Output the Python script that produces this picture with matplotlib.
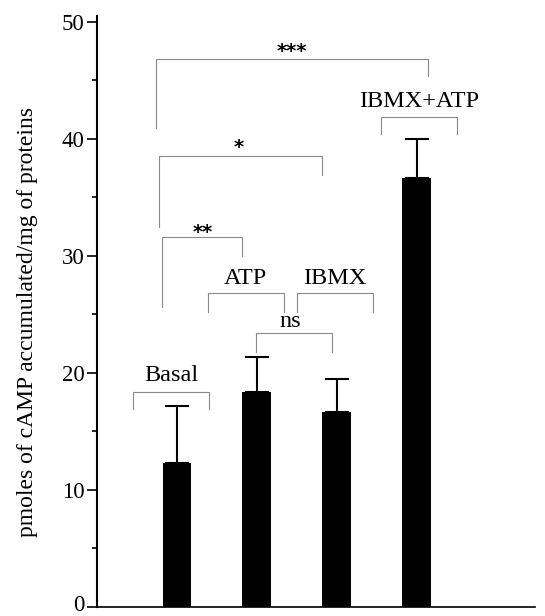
import matplotlib
matplotlib.use("Agg")
import matplotlib.pyplot as plt
import matplotlib.transforms as mtransforms
import numpy as np

# ---- data ----
categories = ["Basal", "ATP", "IBMX", "IBMX+ATP"]
values = [12.3, 18.4, 16.7, 36.7]
errors = [4.9, 3.0, 2.8, 3.3]
yticks = [0, 10, 20, 30, 40, 50]
ylabel = "pmoles of cAMP accumulated/mg of proteins"

# group label brackets: (center offset, y, leg bottom, label y)
label_brackets = [(-0.07, 18.4, 16.9, 19.8),
                  (-0.14, 26.8, 25.2, 28.1),
                  (-0.02, 26.8, 25.2, 28.1),
                  (0.03, 41.9, 40.4, 43.2)]
# comparison brackets: x1, x2, y, left leg bottom, right leg bottom, text, text x, text y
comparisons = [(0.99, 1.94, 23.4, 21.8, 21.8, "ns", 1.42, 24.4),
               (-0.19, 0.82, 31.6, 25.6, 30.0, "**", 0.32, 32.0),
               (-0.22, 1.82, 38.5, 32.5, 36.9, "*", 0.77, 39.3),
               (-0.26, 3.14, 46.8, 40.9, 45.4, "***", 1.44, 47.5)]

serif = ["Liberation Serif", "DejaVu Serif"]

fig = plt.figure(figsize=(5.45, 6.16), dpi=100)
ax = fig.add_axes([97 / 545, 1 - 607 / 616, (535 - 97) / 545, (607 - 16) / 616])

x = np.arange(len(categories))
ax.bar(x, values, width=0.36, color="black", zorder=3)
ax.errorbar(x, values, yerr=[np.zeros(len(errors)), errors], fmt="none",
            ecolor="black", elinewidth=1.5, capsize=8.5, capthick=1.5, zorder=2)

ax.set_xlim(-1.0, 4.48)
ax.set_ylim(0, 50.5)
ax.set_yticks(yticks)
ax.set_yticks(np.arange(5, 50, 10), minor=True)
ax.set_xticks([])
for s in ["top", "right"]:
    ax.spines[s].set_visible(False)
ax.spines["left"].set_linewidth(1.5)
ax.spines["bottom"].set_linewidth(1.2)
ax.tick_params(axis="y", which="major", length=7, width=1.2, direction="out", pad=2)
ax.tick_params(axis="y", which="minor", length=3.6, width=1.2, direction="out")
for lbl in ax.get_yticklabels():
    lbl.set_family(serif)
    lbl.set_fontsize(16.5)
# nudge the "0" label up slightly so it stays inside the canvas
zero_lbl = ax.get_yticklabels()[0]
zero_lbl.set_transform(zero_lbl.get_transform() +
                       mtransforms.ScaledTranslation(0, 4 / 100, fig.dpi_scale_trans))
fig.text(28 / 545, 1 - 322 / 616, ylabel, rotation=90, ha="center", va="center",
         family=serif, fontsize=17)

gray = "#8a8a8a"
lw = 0.8
hw = 0.475
for i, (off, yb, leg, ly) in enumerate(label_brackets):
    c = x[i] + off
    ax.plot([c - hw, c - hw, c + hw, c + hw], [leg, yb, yb, leg], color=gray, lw=lw, zorder=1)
    ax.text(c, ly, categories[i], ha="center", va="center", family=serif, fontsize=17.5)

for x1, x2, yb, l1, l2, t, tx, ty in comparisons:
    ax.plot([x1, x1, x2, x2], [l1, yb, yb, l2], color=gray, lw=lw, zorder=1)
    if t == "ns":
        ax.text(tx, ty, t, ha="center", va="center", family=serif, fontsize=17.5)
    else:
        ax.text(tx, ty, t, ha="center", va="center", family="DejaVu Sans",
                fontweight="bold", fontsize=14)

fig.savefig("out.png", dpi=100)
